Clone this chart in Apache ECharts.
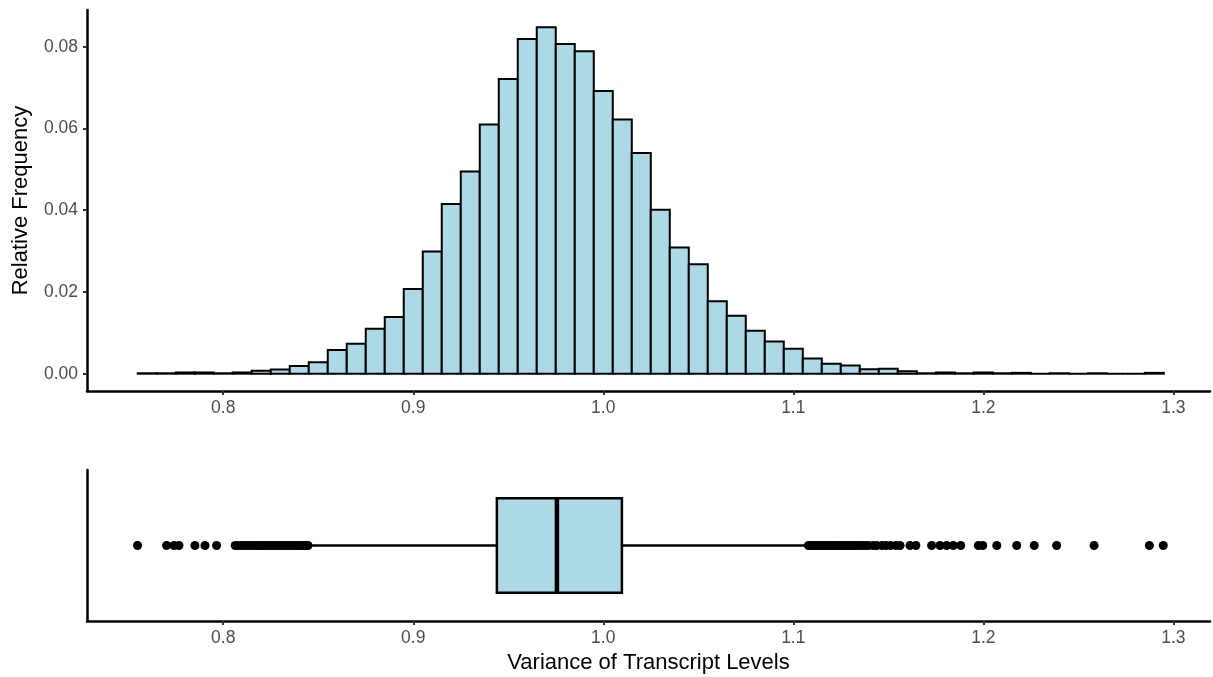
<!DOCTYPE html>
<html>
<head>
<meta charset="utf-8">
<script src="https://cdn.jsdelivr.net/npm/echarts@6/dist/echarts.min.js"></script>
<style>
  html, body { margin: 0; padding: 0; background: #fff; }
  #main { width: 1213px; height: 677px; }
</style>
</head>
<body>
<div id="main"></div>
<script>
// histogram bins (centres, width 0.01) and relative frequency
const binCenters = [0.76, 0.77, 0.78, 0.79, 0.80, 0.81, 0.82, 0.83, 0.84, 0.85,
  0.86, 0.87, 0.88, 0.89, 0.90, 0.91, 0.92, 0.93, 0.94, 0.95,
  0.96, 0.97, 0.98, 0.99, 1.00, 1.01, 1.02, 1.03, 1.04, 1.05,
  1.06, 1.07, 1.08, 1.09, 1.10, 1.11, 1.12, 1.13, 1.14, 1.15,
  1.16, 1.17, 1.18, 1.19, 1.20, 1.21, 1.22, 1.23, 1.24, 1.25,
  1.26, 1.27, 1.28, 1.29]
const relFreq = [0.0001, 0.0001, 0.0003, 0.0003, 0.0001, 0.0003, 0.0007, 0.0010, 0.0019, 0.0028,
  0.0058, 0.0073, 0.0110, 0.0139, 0.0207, 0.0299, 0.0415, 0.0495, 0.0610, 0.0721,
  0.0819, 0.0848, 0.0807, 0.0789, 0.0692, 0.0622, 0.0540, 0.0401, 0.0309, 0.0268,
  0.0177, 0.0142, 0.0105, 0.0079, 0.0061, 0.0037, 0.0024, 0.0020, 0.0011, 0.0012,
  0.0006, 0.0001, 0.0003, 0.0001, 0.0003, 0.0001, 0.0002, 0, 0.0001, 0,
  0.0001, 0, 0, 0.0002]

// boxplot: lower whisker, Q1, median, Q3, upper whisker
const boxStats = [0.8458, 0.9440, 0.9756, 1.0098, 1.1077]
const outliers = [
  0.7549, 0.7702, 0.7741, 0.7767, 0.7851, 0.7904, 0.7965,
  0.8063, 0.8079, 0.8098, 0.8110, 0.8127, 0.8141, 0.8152, 0.8170, 0.8183, 0.8194,
  0.8210, 0.8221, 0.8238, 0.8249, 0.8262, 0.8277, 0.8291, 0.8302, 0.8318, 0.8331,
  0.8343, 0.8358, 0.8370, 0.8385, 0.8399, 0.8410, 0.8424, 0.8437, 0.8446,
  1.1080, 1.1092, 1.1105, 1.1117, 1.1130, 1.1141, 1.1155, 1.1168, 1.1179, 1.1192,
  1.1206, 1.1218, 1.1231, 1.1243, 1.1256, 1.1268, 1.1281, 1.1293, 1.1307, 1.1320,
  1.1333, 1.1347, 1.1362, 1.1378, 1.1396, 1.1421, 1.1440, 1.1468, 1.1489, 1.1512,
  1.1540, 1.1562, 1.1614, 1.1645, 1.1728, 1.1772, 1.1807, 1.1842, 1.1881,
  1.1974, 1.1997, 1.2071, 1.2176, 1.2268, 1.2386, 1.2583, 1.2874, 1.2947]

const xTicks = [0.8, 0.9, 1.0, 1.1, 1.2, 1.3]
const yTicks = [0, 0.02, 0.04, 0.06, 0.08]

const binWidth = 0.01
const xMin = 0.7283
const xMax = 1.3193
const font = 'Liberation Sans, Arial, sans-serif'

let chart = echarts.init(document.getElementById('main'))

let xAxisBase = {
  type: 'value',
  min: xMin,
  max: xMax,
  splitLine: { show: false },
  axisLine: { show: true, onZero: false, lineStyle: { color: '#000', width: 2.5 } },
  axisTick: { show: true, length: 4, customValues: xTicks, lineStyle: { color: '#333', width: 2 } },
  axisLabel: {
    customValues: xTicks,
    margin: 8,
    color: '#4D4D4D',
    fontSize: 17.5,
    fontFamily: font,
    formatter: v => v.toFixed(1)
  }
}

let option = {
  animation: false,
  backgroundColor: '#fff',
  grid: [
    { left: 87, right: 3, top: 10, bottom: 286 }, // 直方图
    { left: 87, right: 3, top: 470, bottom: 56 } // 箱线图
  ],
  xAxis: [
    Object.assign({ gridIndex: 0 }, xAxisBase),
    Object.assign({
      gridIndex: 1,
      name: 'Variance of Transcript Levels',
      nameLocation: 'middle',
      nameGap: 31,
      nameTextStyle: { color: '#000', fontSize: 22, fontFamily: font }
    }, xAxisBase)
  ],
  yAxis: [
    {
      gridIndex: 0,
      type: 'value',
      min: -0.00424,
      max: 0.0890,
      name: 'Relative Frequency',
      nameLocation: 'middle',
      nameGap: 55,
      nameTextStyle: { color: '#000', fontSize: 22, fontFamily: font },
      splitLine: { show: false },
      axisLine: { show: true, onZero: false, lineStyle: { color: '#000', width: 2.5 } },
      axisTick: { show: true, length: 4, customValues: yTicks, lineStyle: { color: '#333', width: 2 } },
      axisLabel: {
        customValues: yTicks,
        margin: 9,
        color: '#4D4D4D',
        fontSize: 17.5,
        fontFamily: font,
        formatter: v => v.toFixed(2)
      }
    },
    {
      gridIndex: 1,
      type: 'value',
      min: 0.4,
      max: 1.6,
      splitLine: { show: false },
      axisLine: { show: true, onZero: false, lineStyle: { color: '#000', width: 2.5 } },
      axisTick: { show: false },
      axisLabel: { show: false }
    }
  ],
  series: [
    {
      type: 'custom',
      xAxisIndex: 0,
      yAxisIndex: 0,
      data: binCenters.map((c, i) => [c, relFreq[i]]),
      renderItem: function (params, api) {
        let x = api.value(0)
        let h = api.value(1)
        let p0 = api.coord([x - binWidth / 2, 0])
        let p1 = api.coord([x + binWidth / 2, h])
        return {
          type: 'rect',
          shape: { x: p0[0], y: p1[1], width: p1[0] - p0[0], height: p0[1] - p1[1] },
          style: { fill: '#ADD8E6', stroke: '#000', lineWidth: 2 }
        }
      }
    },
    {
      type: 'custom',
      xAxisIndex: 1,
      yAxisIndex: 1,
      data: [boxStats],
      renderItem: function (params, api) {
        let lo = api.value(0)
        let q1 = api.value(1)
        let med = api.value(2)
        let q3 = api.value(3)
        let hi = api.value(4)
        let a = api.coord([q1, 1.375])
        let b = api.coord([q3, 0.625])
        let yc = api.coord([q1, 1])[1]
        let pLo = api.coord([lo, 1])[0]
        let pHi = api.coord([hi, 1])[0]
        let pMed = api.coord([med, 1])[0]
        let line = { stroke: '#000', lineWidth: 2.5 }
        return {
          type: 'group',
          children: [
            { type: 'line', shape: { x1: pLo, y1: yc, x2: a[0], y2: yc }, style: line },
            { type: 'line', shape: { x1: b[0], y1: yc, x2: pHi, y2: yc }, style: line },
            {
              type: 'rect',
              shape: { x: a[0], y: a[1], width: b[0] - a[0], height: b[1] - a[1] },
              style: { fill: '#ADD8E6', stroke: '#000', lineWidth: 2.5 }
            },
            { type: 'line', shape: { x1: pMed, y1: a[1], x2: pMed, y2: b[1] }, style: { stroke: '#000', lineWidth: 4.5 } }
          ]
        }
      }
    },
    {
      type: 'scatter',
      xAxisIndex: 1,
      yAxisIndex: 1,
      symbol: 'circle',
      symbolSize: 9,
      itemStyle: { color: '#000', opacity: 1 },
      data: outliers.map(v => [v, 1])
    }
  ]
}

chart.setOption(option)
</script>
</body>
</html>
